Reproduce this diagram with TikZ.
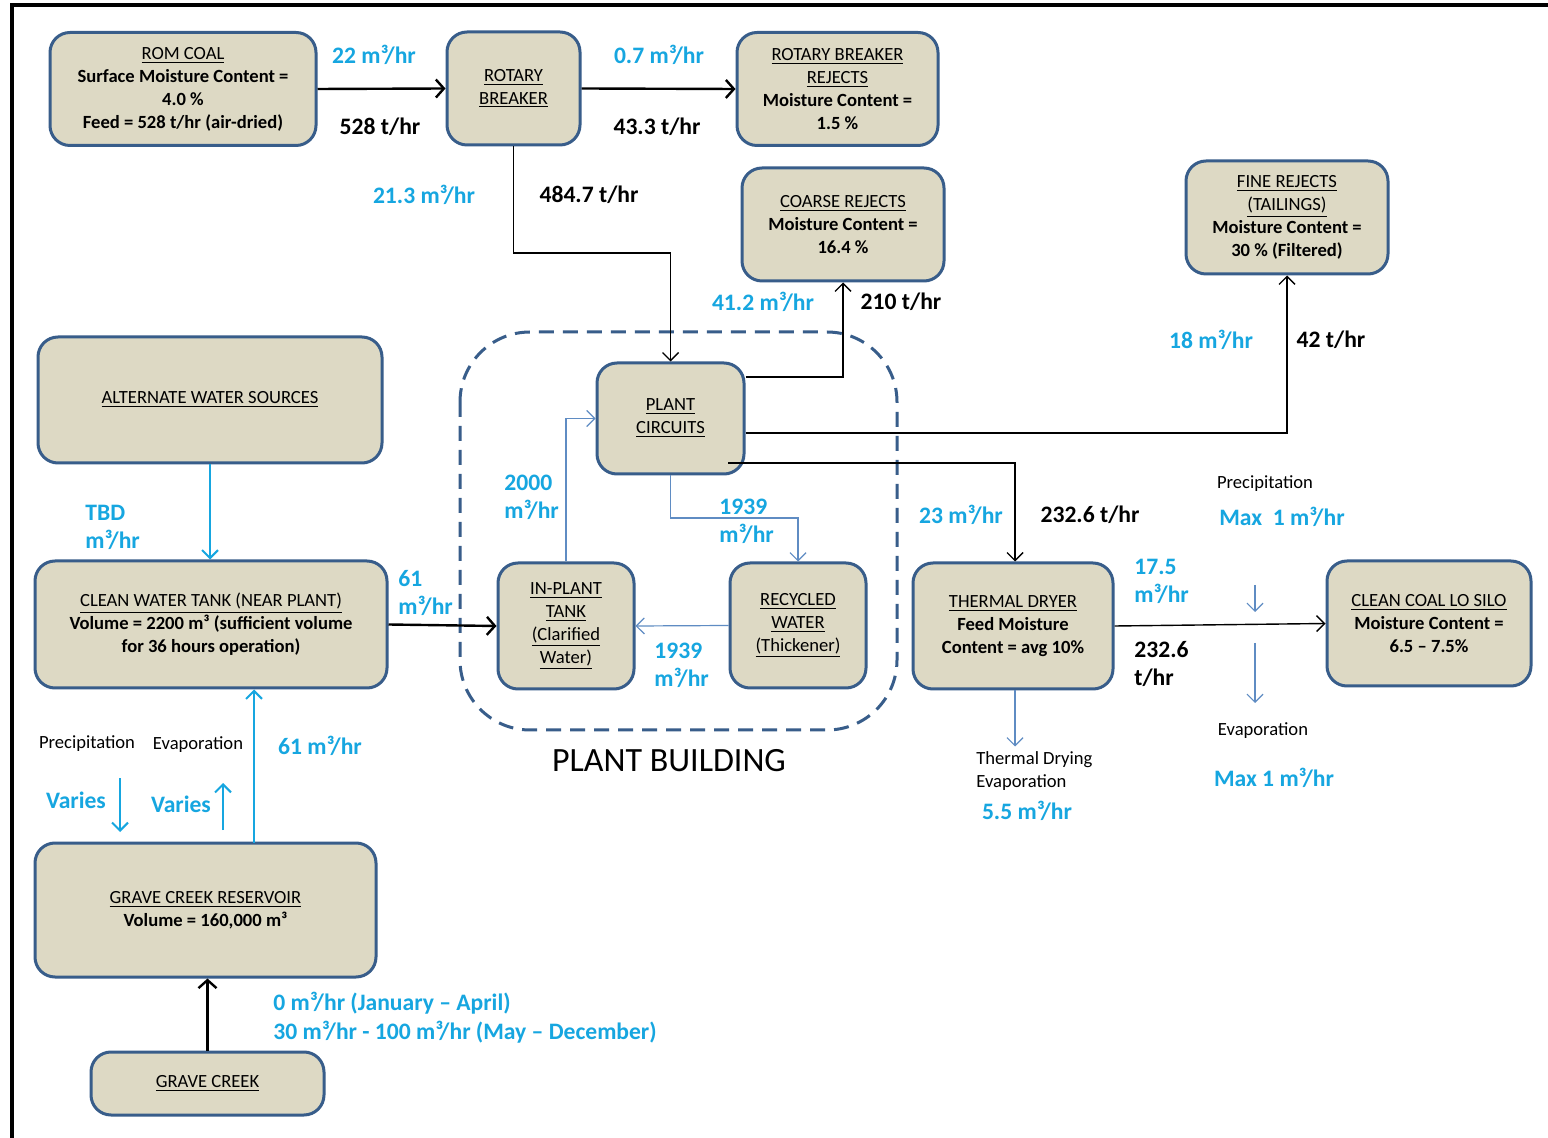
\documentclass[tikz,border=0pt]{standalone}
\usepackage{fontspec}
\setmainfont{Carlito}
\usetikzlibrary{arrows.meta,calc}
\definecolor{boxfill}{RGB}{221,217,196}
\definecolor{boxline}{RGB}{56,93,138}
\definecolor{wcyan}{RGB}{22,166,224}
\definecolor{wsteel}{RGB}{95,140,195}
\newcommand{\bxf}{\fontsize{9.3pt}{11.5pt}\selectfont}
\newcommand{\lbf}{\fontsize{11.8pt}{14pt}\selectfont\bfseries}
\newcommand{\mhr}{m³/hr}
\begin{document}
\begin{tikzpicture}[x=0.5pt,y=-0.5pt,
  box/.style={draw=boxline,fill=boxfill,line width=1.5pt,rounded corners=10pt,align=center,font=\bxf,inner sep=2pt},
  cyl/.style={text=wcyan,font=\lbf,inner sep=0pt,align=left},
  bkl/.style={text=black,font=\lbf,inner sep=0pt,align=left},
  note/.style={font=\bxf,inner sep=0pt,align=left},
  flowthick/.style={line width=1.2pt,-{Straight Barb[length=4pt,width=9pt]}},
  flowthin/.style={line width=0.7pt,-{Straight Barb[length=4pt,width=8pt]}},
  flowcyan/.style={draw=wcyan,line width=1pt,-{Straight Barb[length=4pt,width=8pt]}},
  flowsteel/.style={draw=wsteel,line width=0.6pt,-{Straight Barb[length=4pt,width=8pt]}}]
\useasboundingbox (0,0) rectangle (1548,1138);
\fill[white] (0,0) rectangle (1548,1138);
\draw[line width=2pt] (1548,5) -- (12,5) -- (12,1138);

% plant building
\draw[boxline,line width=1.5pt,dash pattern=on 7.5pt off 4.5pt,rounded corners=35pt] (460,332) rectangle (897,730);
\node[font=\fontsize{17pt}{20pt}\selectfont,inner sep=0pt] (pb) at (669,761) {PLANT BUILDING};

% boxes
\node[box,minimum width=133pt,minimum height=56.5pt] (rom) at (183,89) {\underline{ROM COAL}\\\textbf{Surface Moisture Content =}\\\textbf{4.0 \%}\\\textbf{Feed = 528 t/hr (air-dried)}};
\node[box,minimum width=66.5pt,minimum height=56.5pt] (rb) at (513.5,88.5) {\underline{ROTARY}\\\underline{BREAKER}};
\node[box,minimum width=100.5pt,minimum height=56.5pt] (rbr) at (837.5,89) {\underline{ROTARY BREAKER}\\\underline{REJECTS}\\\textbf{Moisture Content =}\\\textbf{1.5 \%}};
\node[box,minimum width=101pt,minimum height=56.5pt] (cr) at (843,224.5) {\underline{COARSE REJECTS}\\\textbf{Moisture Content =}\\\textbf{16.4 \%}};
\node[box,minimum width=101pt,minimum height=56.5pt] (fr) at (1287,217.5) {\underline{FINE REJECTS}\\\underline{(TAILINGS)}\\\textbf{Moisture Content =}\\\textbf{30 \% (Filtered)}};
\node[box,minimum width=172pt,minimum height=63pt] (aws) at (210,400) {\underline{ALTERNATE WATER SOURCES}};
\node[box,minimum width=73.5pt,minimum height=55.5pt] (pc) at (670.5,418.5) {\underline{PLANT}\\\underline{CIRCUITS}};
\node[box,minimum width=176pt,minimum height=63.5pt] (cwt) at (211,624.5) {\underline{CLEAN WATER TANK (NEAR PLANT)}\\\textbf{Volume = 2200 m³ (sufficient volume}\\\textbf{for 36 hours operation)}};
\node[box,minimum width=68pt,minimum height=63pt] (ipt) at (566,626) {\underline{IN-PLANT}\\\underline{TANK}\\\underline{(Clarified}\\\underline{Water)}};
\node[box,minimum width=68pt,minimum height=62.5pt] (rw) at (798,625.5) {\underline{RECYCLED}\\\underline{WATER}\\\underline{(Thickener)}};
\node[box,minimum width=100pt,minimum height=63pt] (td) at (1013,626) {\underline{THERMAL DRYER}\\\textbf{Feed Moisture}\\\textbf{Content = avg 10\%}};
\node[box,minimum width=102pt,minimum height=62.5pt] (silo) at (1429,623.5) {\underline{CLEAN COAL LO SILO}\\\textbf{Moisture Content =}\\\textbf{6.5 – 7.5\%}};
\node[box,minimum width=170.5pt,minimum height=67pt] (gcr) at (205.5,910) {\underline{GRAVE CREEK RESERVOIR}\\\textbf{Volume = 160,000 m³}};
\node[box,minimum width=116.5pt,minimum height=31.5pt] (gc) at (207.5,1083.5) {\underline{GRAVE CREEK}};

% connectors
\draw[flowthick] (rom.east) -- (rb.west);
\draw[flowthick] (rb.east) -- (rbr.west);
\coordinate (j1) at (670.5,253);
\draw[flowthin] (rb.south) |- (j1) -- (pc.north);
\draw[flowthin] ($(pc.east)+(0,-41.5)$) -| (cr.south);
\draw[flowthin] ($(pc.east)+(0,14.5)$) -| (fr.south);
\coordinate (pcd) at (728,463);
\draw[flowthin] (pcd) -| ($(td.north)+(2,0)$);
\draw[flowsteel] (ipt.north) |- (pc.west);
\coordinate (j2) at (670.5,518);
\draw[flowsteel] (pc.south) -- (j2) -| (rw.north);
\draw[flowsteel] (rw.west) -- (ipt.east);
\draw[flowthick] (cwt.east) -- (ipt.west);
\draw[flowcyan] (aws.south) -- (aws.south |- cwt.north);
\coordinate (g1) at (254,843);
\draw[flowcyan] (g1) -- (g1 |- cwt.south);
\draw[flowthick] (gc.north) -- (gc.north |- gcr.south);
\draw[line width=0.7pt,-{Straight Barb[length=4pt,width=8pt]}] (td.east) -- (silo.west);
\coordinate (p1) at (1255,585); \coordinate (p2) at (1255,612);
\draw[flowsteel] (p1) -- (p2);
\coordinate (e1) at (1255,643); \coordinate (e2) at (1255,703);
\draw[flowsteel] (e1) -- (e2);
\draw[flowsteel] ($(td.south)+(2,0)$) -- ++(0,56);
\coordinate (v1) at (120,778); \coordinate (v2) at (120,832);
\draw[flowcyan] (v1) -- (v2);
\coordinate (v3) at (223,830); \coordinate (v4) at (223,783);
\draw[flowcyan] (v3) -- (v4);

% labels
\node[cyl] (l1) at (374,55) {22 \mhr};
\node[bkl] (l2) at (380,127) {528 t/hr};
\node[cyl] (l3) at (659,55) {0.7 \mhr};
\node[bkl] (l4) at (657,127) {43.3 t/hr};
\node[cyl] (l5) at (424,195) {21.3 \mhr};
\node[bkl] (l6) at (589,195) {484.7 t/hr};
\node[cyl] (l7) at (763,302) {41.2 \mhr};
\node[bkl] (l8) at (901,302) {210 t/hr};
\node[cyl] (l9) at (1211,340) {18 \mhr};
\node[bkl] (l10) at (1331,340) {42 t/hr};
\node[cyl,anchor=west] (l11) at (85,527) {TBD\\\mhr};
\node[cyl,anchor=west] (l12) at (398,593) {61\\\mhr};
\node[cyl,anchor=west] (l13) at (504,497) {2000\\\mhr};
\node[cyl,anchor=west] (l14) at (719,521) {1939\\\mhr};
\node[cyl,anchor=west] (l15) at (654,665) {1939\\\mhr};
\node[cyl] (l16) at (961,515) {23 \mhr};
\node[bkl] (l17) at (1090,515) {232.6 t/hr};
\node[note] (l18) at (1265,484) {Precipitation};
\node[cyl] (l19) at (1282,517) {Max\ \ 1 \mhr};
\node[cyl,anchor=west] (l20) at (1134,581) {17.5\\\mhr};
\node[bkl,anchor=west] (l21) at (1134,664) {232.6\\t/hr};
\node[note] (l22) at (1263,731) {Evaporation};
\node[cyl] (l23) at (1274,778) {Max 1 \mhr};
\node[note,anchor=west] (l24) at (976,771) {Thermal Drying\\Evaporation};
\node[cyl] (l25) at (1027,811) {5.5 \mhr};
\node[note] (l26) at (87,744) {Precipitation};
\node[note] (l27) at (198,745) {Evaporation};
\node[cyl] (l28) at (320,746) {61 \mhr};
\node[cyl] (l29) at (76,800) {Varies};
\node[cyl] (l30) at (181,804) {Varies};
\node[cyl,anchor=west,align=left] (l31) at (273,1017.5) {0 \mhr{} (January – April)\\[0.5pt]30 \mhr{} - 100 \mhr{} (May – December)};
\end{tikzpicture}
\end{document}
